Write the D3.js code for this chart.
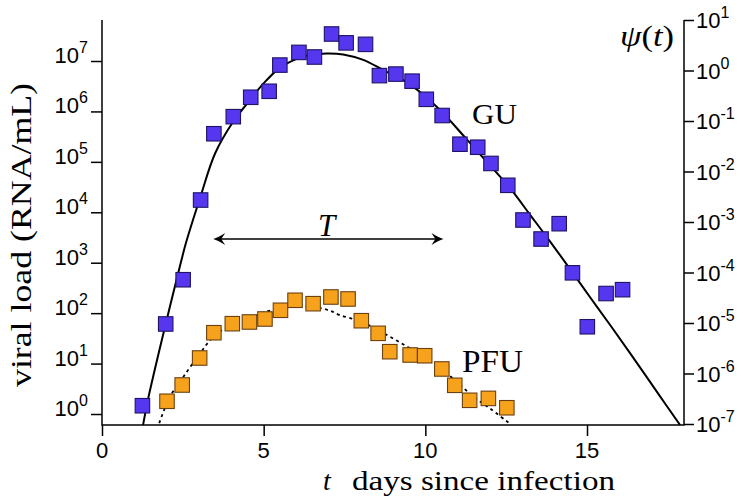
<!DOCTYPE html>
<html><head><meta charset="utf-8">
<script src="https://cdn.jsdelivr.net/npm/d3@7"></script>
<style>body{margin:0;background:#fff} svg{display:block}</style>
</head><body>
<svg id="chart" width="748" height="499"></svg>
<script>
// ---- data ----
const guDays = [1.25,1.97,2.51,3.05,3.46,4.06,4.60,5.17,5.50,6.09,6.57,7.10,7.55,8.15,8.58,9.09,9.59,10.03,10.52,11.07,11.62,12.03,12.55,13.02,13.58,14.14,14.55,15.01,15.59,16.10];
const guLoad = [1.46,61,460,17500,361000,787000,1.91e6,2.51e6,8.3e6,1.48e7,1.20e7,3.43e7,2.29e7,2.14e7,5.13e6,5.5e6,3.98e6,1.74e6,8.3e5,2.24e5,1.95e5,9.3e4,3.43e4,7030,2950,5940,631,53.7,245,292];
const pfuDays = [2.01,2.48,3.02,3.46,4.03,4.56,5.04,5.52,5.97,6.53,7.08,7.61,8.02,8.54,8.90,9.53,9.98,10.51,10.91,11.37,11.95,12.52];
const pfuLoad = [1.79,3.76,12.9,40.9,61.8,66.8,76.6,114,180,154,209,191,70.8,39.8,17.2,14.8,14.3,7.82,3.71,1.87,2.04,1.33];
const guFitDays = [1.27,1.42,1.97,2.44,2.60,3.03,3.50,4.06,4.48,4.99,5.51,6.12,6.43,6.95,7.46,8.08,8.70,9.32,9.94,10.56,11.18,11.79,12.62,13.24,13.86,14.48,15.09,15.71,16.38,17.26,17.88];
const guFitLoad = [0.603,1.91,61,1020,2510,19000,1.48e5,6.3e5,1.41e6,3.55e6,7.4e6,1.17e7,1.32e7,1.41e7,1.35e7,1.05e7,6.61e6,4.17e6,2.14e6,9.12e5,3.3e5,1.2e5,3.0e4,8910,2630,741,209,58.9,14.5,2.24,0.603];
const pfuFitDays = [1.77,2.10,2.52,3.03,3.50,4.06,4.58,5.09,5.61,6.12,6.64,7.05,7.36,7.88,8.39,8.91,9.43,9.94,10.46,10.97,11.49,12.00,12.57];
const pfuFitLoad = [0.66,2.19,5.5,15.8,37.2,58.9,79.4,107,132,138,129,112,91.2,72.4,52.5,33.9,21.9,13.8,8.13,4.37,2.19,1.29,0.676];
const xTicks = [0,5,10,15];
const leftExps = [0,1,2,3,4,5,6,7];
const rightExps = [-7,-6,-5,-4,-3,-2,-1,0,1];
const arrowDays = [3.44,10.56];
const arrowLoad = 2950;

// ---- scales ----
const svg = d3.select("#chart");
const L = 102, R = 684, T = 20, B = 425;
const x = d3.scaleLinear().domain([0,18]).range([L,R]);
const yL = d3.scaleLog().domain([Math.pow(10,-0.218), Math.pow(10,7.813)]).range([B,T]);
const yR = d3.scaleLog().domain([1e-7,1e1]).range([424,T]);

svg.append("defs").append("clipPath").attr("id","plot")
  .append("rect").attr("x",L).attr("y",T).attr("width",R-L).attr("height",B-T);

const sans = "'Liberation Sans', Arial, sans-serif";
const serif = "'Liberation Serif', 'Times New Roman', serif";

// ---- axes ----
const gL = svg.append("g").attr("transform",`translate(${L},0)`)
  .call(d3.axisLeft(yL).tickValues(leftExps.map(e=>Math.pow(10,e))).tickSize(11).tickSizeOuter(0).tickFormat(""));
const gR = svg.append("g").attr("transform",`translate(${R},0)`)
  .call(d3.axisRight(yR).tickValues(rightExps.map(e=>Math.pow(10,e))).tickSize(10).tickSizeOuter(0).tickFormat(""));
const gB = svg.append("g").attr("transform",`translate(0,${B})`)
  .call(d3.axisBottom(x).tickValues(xTicks).tickSize(11).tickSizeOuter(0).tickFormat(""));
[gL,gR,gB].forEach(g=>{g.select(".domain").remove(); g.selectAll(".tick line").attr("stroke","#000").attr("stroke-width",1.5);});

svg.append("path").attr("d",`M${L},${T}V${B}H${R}V${T}`).attr("fill","none").attr("stroke","#000").attr("stroke-width",1.5);

// tick labels
leftExps.forEach(e=>{
  const t = svg.append("text").attr("x",88).attr("y",yL(Math.pow(10,e))+2)
    .attr("text-anchor","end").attr("font-family",sans).attr("font-size",22);
  t.append("tspan").text("10");
  t.append("tspan").attr("dy",-10).attr("font-size",16).text(e);
});
rightExps.forEach(e=>{
  const t = svg.append("text").attr("x",696).attr("y",yR(Math.pow(10,e))+8)
    .attr("text-anchor","start").attr("font-family",sans).attr("font-size",22);
  t.append("tspan").text("10");
  t.append("tspan").attr("dy",-10).attr("font-size",16).text(e);
});
xTicks.forEach(v=>{
  svg.append("text").attr("x",x(v)).attr("y",458).attr("text-anchor","middle")
    .attr("font-family",sans).attr("font-size",22).text(v);
});

// ---- fitted curves ----
const plot = svg.append("g").attr("clip-path","url(#plot)");
const line = d3.line().x(d=>x(d[0])).y(d=>yL(d[1])).curve(d3.curveCatmullRom.alpha(0.5));
plot.append("path").attr("d", line(guFitDays.map((d,i)=>[d,guFitLoad[i]])))
  .attr("fill","none").attr("stroke","#000").attr("stroke-width",2);
plot.append("path").attr("d", line(pfuFitDays.map((d,i)=>[d,pfuFitLoad[i]])))
  .attr("fill","none").attr("stroke","#000").attr("stroke-width",1.8).attr("stroke-dasharray","3,3.5");

// ---- markers ----
const S = 14.5;
svg.append("g").selectAll("rect").data(guDays.map((d,i)=>[d,guLoad[i]])).join("rect")
  .attr("x",d=>x(d[0])-S/2).attr("y",d=>yL(d[1])-S/2).attr("width",S).attr("height",S)
  .attr("fill","#5636ee").attr("stroke","#1c1466").attr("stroke-width",1.1);
svg.append("g").selectAll("rect").data(pfuDays.map((d,i)=>[d,pfuLoad[i]])).join("rect")
  .attr("x",d=>x(d[0])-S/2).attr("y",d=>yL(d[1])-S/2).attr("width",S).attr("height",S)
  .attr("fill","#f7a21c").attr("stroke","#6b4010").attr("stroke-width",1.1);

// ---- T arrow ----
const ax0 = x(arrowDays[0]), ax1 = x(arrowDays[1]), ay = yL(arrowLoad);
svg.append("line").attr("x1",ax0+3).attr("x2",ax1-3).attr("y1",ay).attr("y2",ay).attr("stroke","#000").attr("stroke-width",1.4);
function head(tx,ty,d){
  return `M${tx},${ty} Q${tx-d*5},${ty-1.5} ${tx-d*12},${ty-6} Q${tx-d*9},${ty-1.5} ${tx-d*8},${ty} Q${tx-d*9},${ty+1.5} ${tx-d*12},${ty+6} Q${tx-d*5},${ty+1.5} ${tx},${ty}Z`;
}
svg.append("path").attr("d",head(ax0,ay,-1)).attr("fill","#000");
svg.append("path").attr("d",head(ax1,ay,1)).attr("fill","#000");

// ---- annotation text ----
svg.append("text").attr("x",318).attr("y",236).attr("font-family",serif).attr("font-style","italic")
  .attr("font-size",31).text("T");
svg.append("text").attr("x",472).attr("y",124).attr("font-family",serif).attr("font-size",30)
  .attr("textLength",45).attr("lengthAdjust","spacingAndGlyphs").text("GU");
svg.append("text").attr("x",462).attr("y",371.5).attr("font-family",serif).attr("font-size",31)
  .attr("textLength",61).attr("lengthAdjust","spacingAndGlyphs").text("PFU");
const psi = svg.append("text").attr("x",620).attr("y",46).attr("font-family",serif).attr("font-size",29)
  .attr("textLength",54).attr("lengthAdjust","spacingAndGlyphs");
psi.append("tspan").attr("font-style","italic").text("ψ");
psi.append("tspan").text("(");
psi.append("tspan").attr("font-style","italic").text("t");
psi.append("tspan").text(")");

svg.append("text").attr("transform","translate(31,235) rotate(-90)").attr("text-anchor","middle")
  .attr("font-family",serif).attr("font-size",29)
  .attr("textLength",304).attr("lengthAdjust","spacingAndGlyphs").text("viral load (RNA/mL)");
svg.append("text").attr("x",323).attr("y",490).attr("font-family",serif).attr("font-style","italic")
  .attr("font-size",28).text("t");
svg.append("text").attr("x",352).attr("y",490).attr("font-family",serif).attr("font-size",28)
  .attr("textLength",263).attr("lengthAdjust","spacingAndGlyphs").text("days since infection");
</script>
</body></html>
